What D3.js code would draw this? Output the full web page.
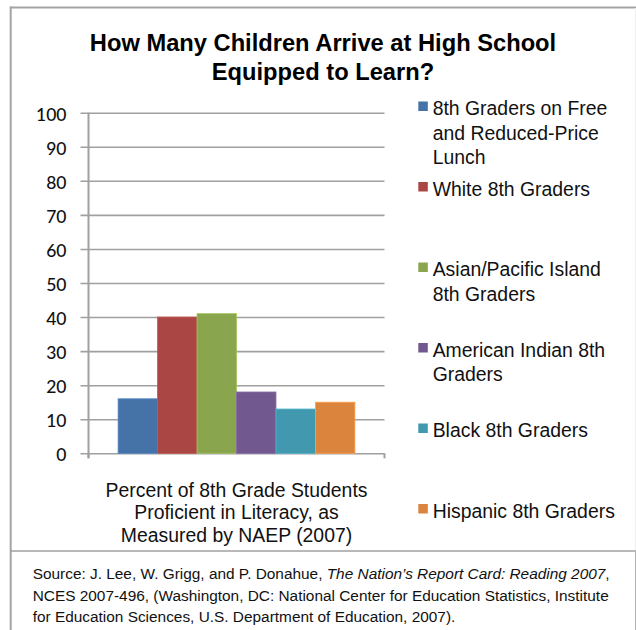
<!DOCTYPE html>
<html>
<head>
<meta charset="utf-8">
<script src="https://cdn.jsdelivr.net/npm/d3@7/dist/d3.min.js"></script>
<style>
  body { margin: 0; background: #fff; }
  svg { display: block; }
</style>
</head>
<body>
<script>
// chart data
var groups = [
    "8th Graders on Free and Reduced-Price Lunch",
    "White 8th Graders",
    "Asian/Pacific Island 8th Graders",
    "American Indian 8th Graders",
    "Black 8th Graders",
    "Hispanic 8th Graders"
];
var values = [16, 40, 41, 18, 13, 15];
var legendLines = [
    ["8th Graders on Free", "and Reduced-Price", "Lunch"],
    ["White 8th Graders"],
    ["Asian/Pacific Island", "8th Graders"],
    ["American Indian 8th", "Graders"],
    ["Black 8th Graders"],
    ["Hispanic 8th Graders"]
];
var barColors = ["#4572A7", "#AA4643", "#89A54E", "#71588F", "#4198AF", "#DB843D"];
var yTicks = [0, 10, 20, 30, 40, 50, 60, 70, 80, 90, 100];
var titleLines = ["How Many Children Arrive at High School", "Equipped to Learn?"];
var categoryLines = ["Percent of 8th Grade Students", "Proficient in Literacy, as", "Measured by NAEP (2007)"];

var W = 636, H = 630;
var svg = d3.select("body").append("svg")
    .attr("width", W)
    .attr("height", H);

// plot area
var plot = { left: 88.5, right: 384.5, top: 112.7, bottom: 453.3 };

var y = d3.scaleLinear()
    .domain([0, 100])
    .range([plot.bottom, plot.top]);

// one category, Excel-style gap width 150%
var barW = (plot.right - plot.left) / (groups.length + 1.5);
var x = d3.scaleBand()
    .domain(groups)
    .range([plot.left + barW * 0.75, plot.right - barW * 0.75])
    .padding(0);

var color = d3.scaleOrdinal()
    .domain(groups)
    .range(barColors);

// outer frame
svg.append("line")
    .attr("x1", 10).attr("x2", W)
    .attr("y1", 7.5).attr("y2", 7.5)
    .attr("stroke", "#a4a4a4").attr("stroke-width", 2);
svg.append("line")
    .attr("x1", 10.7).attr("x2", 10.7)
    .attr("y1", 6.5).attr("y2", H)
    .attr("stroke", "#a4a4a4").attr("stroke-width", 2);
svg.append("line")
    .attr("x1", 635.5).attr("x2", 635.5)
    .attr("y1", 8).attr("y2", 551)
    .attr("stroke", "#eeeeee").attr("stroke-width", 1);
// source box
svg.append("line")
    .attr("x1", 10).attr("x2", 636)
    .attr("y1", 551).attr("y2", 551)
    .attr("stroke", "#a0a0a0").attr("stroke-width", 1.5);
svg.append("line")
    .attr("x1", 635.5).attr("x2", 635.5)
    .attr("y1", 551).attr("y2", H)
    .attr("stroke", "#b0b0b0").attr("stroke-width", 1);

// title
svg.append("text")
    .attr("x", 323)
    .attr("y", 50.7)
    .attr("text-anchor", "middle")
    .style("font-family", "'Liberation Sans', Arial, sans-serif")
    .style("font-weight", "bold")
    .style("font-size", "23.7px")
    .style("fill", "#000")
    .selectAll("tspan")
    .data(titleLines)
    .enter()
    .append("tspan")
    .attr("x", 323)
    .attr("dy", function (d, i) { return i == 0 ? 0 : 28.8; })
    .text(function (d) { return d; });

var chart = svg.append("g");

// y axis with gridlines
var yAxis = d3.axisLeft(y)
    .tickValues(yTicks)
    .tickSize(8)
    .tickPadding(14);

var yg = chart.append("g")
    .attr("transform", "translate(" + plot.left + ",0)")
    .call(yAxis);
yg.select(".domain")
    .attr("d", "M0," + plot.top + "V" + (plot.bottom + 5))
    .attr("stroke", "#a0a0a0")
    .attr("stroke-width", 2);
yg.selectAll(".tick line")
    .attr("x1", -8)
    .attr("x2", plot.right - plot.left)
    .attr("stroke", "#a0a0a0")
    .attr("stroke-width", 1.6);
yg.selectAll(".tick text")
    .attr("dy", "0.42em")
    .style("font-family", "Lato, 'Open Sans', sans-serif")
    .style("font-size", "17.5px")
    .style("font-weight", "500")
    .style("fill", "#111");

// category axis (single category, ticks at both ends)
chart.selectAll(".xedge")
    .data([plot.left, plot.right])
    .enter()
    .append("line")
    .attr("class", "xedge")
    .attr("x1", function (d) { return d; })
    .attr("x2", function (d) { return d; })
    .attr("y1", plot.bottom)
    .attr("y2", plot.bottom + 5)
    .attr("stroke", "#a0a0a0")
    .attr("stroke-width", 2);

// bars
chart.append("g")
    .attr("class", "bar")
    .selectAll("rect")
    .data(groups)
    .enter()
    .append("rect")
    .attr("x", function (d) { return x(d); })
    .attr("y", function (d, i) { return y(values[i]); })
    .attr("width", x.bandwidth())
    .attr("height", function (d, i) { return y(0) - y(values[i]); })
    .style("fill", function (d) { return color(d); })
    .style("stroke", function (d) { return d3.color(color(d)).brighter(0.5); })
    .style("stroke-width", 0.8);

// category label under the axis
svg.append("text")
    .attr("text-anchor", "middle")
    .style("font-family", "'Liberation Sans', Arial, sans-serif")
    .style("font-size", "19.4px")
    .style("fill", "#111")
    .selectAll("tspan")
    .data(categoryLines)
    .enter()
    .append("tspan")
    .attr("x", (plot.left + plot.right) / 2)
    .attr("y", function (d, i) { return 496.7 + i * 22.5; })
    .text(function (d) { return d; });

// legend
var legend = svg.append("g")
    .attr("class", "legend");

var item = legend.selectAll("g")
    .data(groups)
    .enter()
    .append("g")
    .attr("transform", function (d, i) {
        return "translate(418.3," + (115 + i * 80.5) + ")";
    });

item.append("rect")
    .attr("x", 0)
    .attr("y", -13.5)
    .attr("width", 9.5)
    .attr("height", 9.5)
    .style("fill", function (d) { return color(d); });

item.append("text")
    .style("font-family", "'Liberation Sans', Arial, sans-serif")
    .style("font-size", "19.4px")
    .style("fill", "#111")
    .selectAll("tspan")
    .data(function (d, i) { return legendLines[i]; })
    .enter()
    .append("tspan")
    .attr("x", 14.4)
    .attr("y", function (d, i) { return i * 24.5; })
    .text(function (d) { return d; });

// source note
var source = svg.append("text")
    .style("font-family", "'Liberation Sans', Arial, sans-serif")
    .style("font-size", "15.4px")
    .style("fill", "#111");

var l1 = source.append("tspan").attr("x", 32.7).attr("y", 579);
l1.append("tspan").text("Source: J. Lee, W. Grigg, and P. Donahue, ");
l1.append("tspan").style("font-style", "italic").text("The Nation\u2019s Report Card: Reading 2007");
l1.append("tspan").text(",");
source.append("tspan").attr("x", 32.7).attr("y", 600.5)
    .text("NCES 2007-496, (Washington, DC: National Center for Education Statistics, Institute");
source.append("tspan").attr("x", 32.7).attr("y", 622)
    .text("for Education Sciences, U.S. Department of Education, 2007).");
</script>
</body>
</html>
